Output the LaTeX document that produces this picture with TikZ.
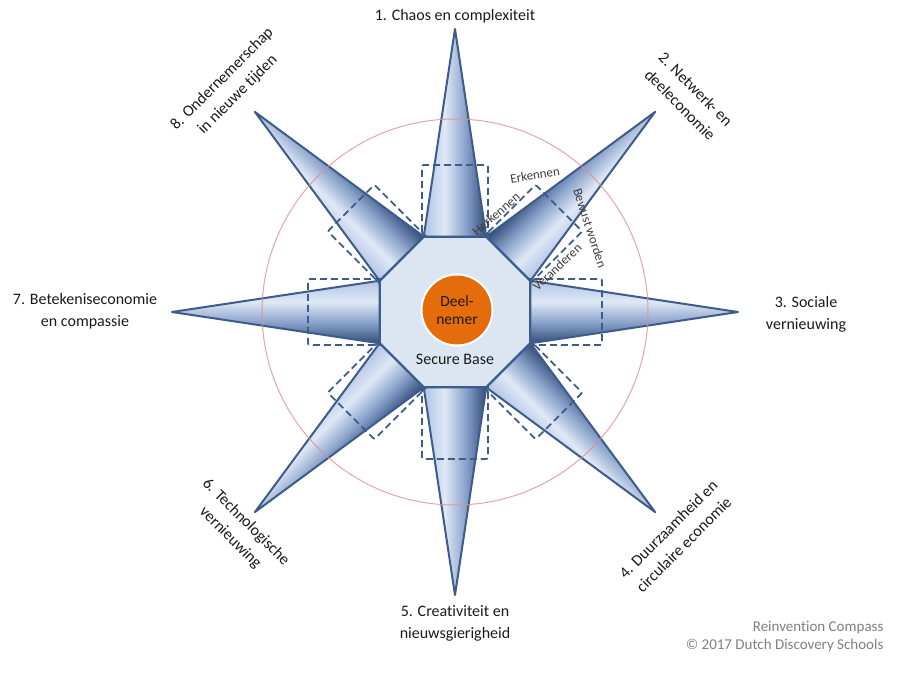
\documentclass[tikz,border=0pt]{standalone}
\usepackage{fontspec}
\setmainfont{Carlito}[Ligatures={NoCommon}]
\usetikzlibrary{shapes.geometric}
\definecolor{navy}{HTML}{3D5C8A}
\definecolor{spkdark}{HTML}{304C78}
\definecolor{spkmid}{HTML}{869FC8}
\definecolor{spklight}{HTML}{DFE8F6}
\definecolor{spkedge}{HTML}{B1C4E5}
\definecolor{basefill}{HTML}{DCE6F2}
\definecolor{deelorange}{HTML}{E46C0A}
\definecolor{ringred}{HTML}{E08E8E}
\definecolor{ink}{HTML}{1A1A1A}
\definecolor{muted}{HTML}{7F7F7F}
\pgfdeclareverticalshading{spikeshade}{100bp}{color(0bp)=(spkedge); color(25bp)=(spkedge); color(42bp)=(spklight); color(59bp)=(spkmid); color(75bp)=(spkdark); color(100bp)=(spkdark)}

\begin{document}
\begin{tikzpicture}[x=1pt,y=1pt,
  spikefill/.style={shade,shading=spikeshade,draw=navy,line width=2pt,line join=round},
  dashbox/.style={draw=navy,line width=1.8pt,dash pattern=on 7pt off 4pt,rounded corners=2pt},
  theme/.style={font=\fontsize{16}{22}\selectfont,text=ink,align=center},
  phase/.style={font=\fontsize{13}{15}\selectfont,text=ink!85}]
  \useasboundingbox (-455,-368) rectangle (445,312);
  % the eight points of the compass
  \foreach \a/\f in {90/180,45/0,0/180,-45/0,-90/0,-135/0,180/0,135/180} {
    \path[spikefill,shading angle=\f,transform canvas={rotate=\a}] (74,-31.5) -- (283,0) -- (74,31.5) -- cycle;
  }
  \draw[ringred,line width=1pt,draw opacity=0.8] (0,0) circle (193);
  \foreach \a in {0,45,...,315} {
    \draw[dashbox,rotate=\a] (60,-33) -- (147,-33) -- (147,33) -- (60,33) -- cycle;
  }
  % secure base and participant
  \node[regular polygon,regular polygon sides=8,minimum size=163pt,inner sep=0pt,
        draw=navy,line width=2.4pt,fill=basefill] (base) at (0,0) {};
  \node[circle,fill=deelorange,draw=white,line width=2pt,minimum size=71pt,inner sep=0pt,
        font=\fontsize{15.5}{18.5}\selectfont,text=ink,align=center] (core) at (2,2) {Deel-\\nemer};
  \node[theme] (secure) at (0,-47) {Secure Base};
  % themes
  \node[theme] (chaos) at (0,296) {1. Chaos en complexiteit};
  \node[theme,rotate=-45] (netwerk) at (233,215) {2. Netwerk- en\\deeleconomie};
  \node[theme] (sociaal) at (351,-2) {3. Sociale\\vernieuwing};
  \node[theme,rotate=45] (duurzaam) at (221,-225) {4. Duurzaamheid en\\circulaire economie};
  \node[theme] (creatief) at (0,-311) {5. Creativiteit en\\nieuwsgierigheid};
  \node[theme,rotate=-45] (techno) at (-217,-218) {6. Technologische\\vernieuwing};
  \node[theme] (betekenis) at (-370,1) {7. Betekeniseconomie\\en compassie};
  \node[theme,rotate=45] (ondernemer) at (-225,225) {8. Ondernemerschap\\in nieuwe tijden};
  % phases round the second point
  \node[phase,rotate=9] (erkennen) at (80,137) {Erkennen};
  \node[phase,rotate=41] (herkennen) at (41,98) {Herkennen};
  \node[phase,rotate=-72] (bewust) at (135,84) {Bewust worden};
  \node[phase,rotate=43] (veranderen) at (102,45) {Veranderen};
  \node[font=\fontsize{15}{18}\selectfont,text=muted,align=right,anchor=east] (credit) at (432,-325)
    {Reinvention Compass\\© 2017 Dutch Discovery Schools};
\end{tikzpicture}
\end{document}
